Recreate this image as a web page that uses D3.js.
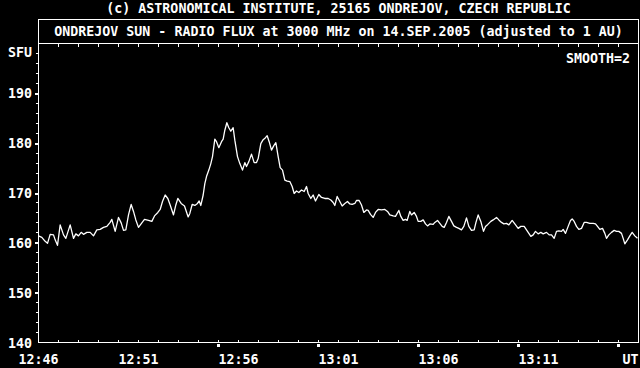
<!DOCTYPE html>
<html>
<head>
<meta charset="utf-8">
<script src="https://cdn.jsdelivr.net/npm/d3@7"></script>
<style>
  html, body { margin: 0; padding: 0; background: #000; }
  svg { display: block; }
  text { font-family: "DejaVu Sans Mono", "Liberation Mono", monospace; font-weight: bold; font-size: 13.3px; fill: #fff; }
</style>
</head>
<body>
<div id="chart"></div>
<script>
//// chart texts
const titleLine = "(c) ASTRONOMICAL INSTITUTE, 25165 ONDREJOV, CZECH REPUBLIC"
const subtitleLine = "ONDREJOV SUN - RADIO FLUX at 3000 MHz on 14.SEP.2005 (adjusted to 1 AU)"
const smoothLabel = "SMOOTH=2"
const yUnit = "SFU"
const xUnit = "UT"

//// axis values
const yTicks = [140, 150, 160, 170, 180, 190]
const xTickLabels = ["12:46", "12:51", "12:56", "13:01", "13:06", "13:11"]
const startTime = "12:46"
const endTime = "13:16"

//// flux series: seconds after 12:46 UT and flux in SFU
const seconds = [
  0, 10, 20, 27, 35, 45, 50, 57, 65, 75, 82, 95, 105, 112, 120, 128, 135, 145, 155, 165,
  175, 185, 195, 205, 215, 220, 230, 240, 248, 255, 262, 270, 278, 285, 292, 300, 310, 318, 330, 340,
  348, 358, 365, 372, 380, 388, 395, 405, 412, 418, 428, 438, 449,
  454, 461, 469, 477, 482, 487, 494, 499, 504, 511, 517, 522, 529, 534, 541, 549, 554, 559, 565, 571,
  577, 584, 589, 597, 604, 612, 619, 624, 631, 639, 647, 654, 659, 667, 674, 681, 686, 692, 699, 706,
  712, 719, 725, 732, 739, 746, 754, 761, 767, 774, 781, 789, 797, 804, 809, 817, 824, 831, 841, 849,
  859, 869, 877, 884, 889, 896,
  904, 911, 919, 927, 934, 941, 949, 954, 962, 969, 976, 984, 989, 996, 1004, 1011, 1019, 1029, 1039, 1047,
  1054, 1064, 1071, 1081, 1087, 1094, 1101, 1106, 1114, 1119, 1127, 1134, 1139, 1147, 1154, 1161, 1167, 1174, 1184, 1189,
  1197, 1204, 1211, 1217, 1224, 1231, 1239, 1246, 1254, 1261, 1269, 1276, 1284, 1291, 1299, 1307, 1312, 1319, 1327, 1335,
  1341, 1348,
  1357, 1364, 1374, 1381, 1389, 1396, 1404, 1411, 1421, 1429, 1439, 1447, 1457, 1467, 1477, 1484, 1491, 1499, 1507, 1514,
  1524, 1532, 1539, 1547, 1554, 1561, 1569, 1574, 1581, 1589, 1596, 1601, 1607, 1614, 1621, 1629, 1637, 1644, 1654, 1664,
  1671, 1677, 1684, 1692, 1699, 1704, 1711, 1719, 1727, 1734, 1741, 1749, 1754, 1759, 1767, 1774, 1781, 1789, 1797
]
const sfu = [
  161.4, 161.1, 160.3, 159.9, 161.7, 161.6, 160.6, 159.5, 163.6, 161.6, 160.9, 163.6, 160.9, 161.8, 161.4, 162.1, 161.7, 162.1, 162.1, 161.4,
  162.6, 162.7, 163.1, 163.3, 164.1, 164.7, 162.3, 165.1, 164.0, 162.5, 162.6, 165.6, 167.7, 166.3, 164.6, 163.1, 164.0, 164.7, 164.5, 164.3,
  165.4, 166.1, 166.7, 168.3, 169.6, 168.9, 167.6, 165.6, 167.6, 168.9, 167.9, 167.4, 165.2,
  165.9, 167.7, 167.5, 167.9, 168.4, 167.5, 169.6, 171.9, 173.3, 174.6, 175.9, 177.3, 180.8, 180.3, 179.1, 180.3, 180.8, 182.6, 184.1, 183.1,
  182.4, 183.1, 180.6, 177.3, 175.9, 174.6, 176.1, 175.3, 176.3, 177.8, 176.1, 176.1, 176.9, 179.9, 180.7, 181.1, 181.5, 180.3, 178.6, 179.5,
  180.1, 177.3, 175.1, 174.6, 172.6, 172.4, 172.3, 171.3, 169.9, 170.4, 170.1, 170.6, 170.3, 171.3, 169.9, 168.9, 169.6, 168.4, 169.7, 169.1,
  168.9, 168.9, 168.6, 168.1, 167.5, 169.3,
  168.3, 167.4, 167.9, 168.3, 167.8, 167.7, 167.9, 168.5, 168.5, 167.6, 166.1, 166.6, 166.5, 165.7, 165.1, 166.1, 166.7, 166.6, 166.7, 166.3,
  165.6, 165.4, 165.3, 166.5, 165.3, 164.5, 164.7, 164.5, 166.3, 165.6, 166.1, 165.3, 164.3, 164.3, 164.6, 163.8, 163.4, 163.8, 163.7, 164.1,
  164.5, 163.9, 163.3, 163.1, 164.1, 165.3, 164.3, 163.4, 163.1, 162.9, 162.6, 163.3, 165.0, 163.3, 162.5, 162.6, 164.0, 165.6, 164.3, 162.3,
  163.3, 163.7,
  164.3, 164.6, 165.1, 164.6, 164.1, 163.8, 163.9, 163.6, 164.5, 163.8, 162.9, 163.3, 163.3, 162.3, 161.3, 161.6, 162.3, 161.8, 162.1, 161.8,
  162.1, 161.6, 161.6, 160.9, 162.3, 162.4, 162.3, 162.7, 161.9, 163.3, 164.5, 164.8, 164.3, 163.3, 162.7, 162.9, 164.1, 164.1, 163.9, 163.9,
  163.8, 163.3, 162.7, 162.9, 161.9, 160.9, 161.6, 162.1, 162.5, 162.3, 162.3, 161.9, 160.9, 159.8, 160.6, 161.4, 162.1, 161.4, 160.9
]

//// layout
const width = 640
const height = 368
const margin = { left: 38.5, right: 1.5, top: 43.5, bottom: 25.5 }
const frameTop = 19.5

const parseTime = d3.timeParse("%Y-%m-%d %H:%M")
const t0 = parseTime("2005-09-14 " + startTime)
const t1 = parseTime("2005-09-14 " + endTime)

const data = []
for (let i = 0; i < Math.min(seconds.length, sfu.length); i++) {
    data.push({ time: d3.timeSecond.offset(t0, seconds[i]), flux: sfu[i] })
}

let x = d3.scaleTime().domain([t0, t1]).range([margin.left, width - margin.right])
let y = d3.scaleLinear().domain([140, 200]).range([height - margin.bottom, margin.top])

const svg = d3.select("#chart").append("svg")
    .attr("width", width)
    .attr("height", height)
svg.append("rect").attr("width", width).attr("height", height).attr("fill", "#000")

const x0 = x.range()[0], x1 = x.range()[1]
const yTop = y.range()[1], yBottom = y.range()[0]

// frame: outer box incl. subtitle band, plus top line of plotting area
svg.append("rect")
    .attr("x", x0).attr("y", frameTop)
    .attr("width", x1 - x0).attr("height", yBottom - frameTop)
    .attr("fill", "none").attr("stroke", "#fff").attr("stroke-width", 1)
    .attr("shape-rendering", "crispEdges")
svg.append("line")
    .attr("x1", x0).attr("x2", x1).attr("y1", yTop).attr("y2", yTop)
    .attr("stroke", "#fff").attr("shape-rendering", "crispEdges")

//// x ticks: minor every minute (up from bottom, down from top), major every 5 min as squares
const minuteTicks = d3.timeMinute.range(t0, d3.timeMinute.offset(t1, 1))
const majorTicks = d3.timeMinute.every(5).range(t0, d3.timeMinute.offset(t1, 1))
const ticks = svg.append("g").attr("fill", "#fff").attr("shape-rendering", "crispEdges")
ticks.selectAll(".xminb").data(minuteTicks).join("rect")
    .attr("x", d => Math.floor(x(d))).attr("y", yBottom - 2.5).attr("width", 1).attr("height", 2)
ticks.selectAll(".xmint").data(minuteTicks).join("rect")
    .attr("x", d => Math.floor(x(d))).attr("y", yTop + 0.5).attr("width", 1).attr("height", 3)
ticks.selectAll(".xmaj").data(majorTicks.slice(1)).join("rect")
    .attr("x", d => Math.floor(x(d)) - 1).attr("y", yBottom + 1.5).attr("width", 3).attr("height", 3)

//// y ticks: minor every 2 SFU, major every 10 SFU
const minorY = d3.range(142, 200, 2)
ticks.selectAll(".ymin").data(minorY).join("rect")
    .attr("x", x0 - 2.5).attr("y", d => Math.floor(y(d))).attr("width", 2).attr("height", 1)
ticks.selectAll(".ymaj").data(yTicks.slice(1)).join("rect")
    .attr("x", x0 - 3.5).attr("y", d => Math.floor(y(d)) - 0.5).attr("width", 3).attr("height", 2)

//// labels
svg.append("text").attr("x", (x0 + x1) / 2).attr("y", 13).attr("text-anchor", "middle").text(titleLine)
svg.append("text").attr("x", (x0 + x1) / 2).attr("y", 36).attr("text-anchor", "middle").text(subtitleLine)
svg.append("text").attr("x", x1 - 8.5).attr("y", 63).attr("text-anchor", "end").text(smoothLabel)

svg.selectAll(".ylab").data(yTicks).join("text")
    .attr("x", 32).attr("y", d => y(d) + 5).attr("text-anchor", "end").text(d => d)
svg.append("text").attr("x", 32).attr("y", y(198) + 3.5).attr("text-anchor", "end").text(yUnit)

svg.selectAll(".xlab").data(xTickLabels).join("text")
    .attr("x", d => x(parseTime("2005-09-14 " + d)))
    .attr("y", 364).attr("text-anchor", "middle").text(d => d)
svg.append("text").attr("x", x1).attr("y", 364).attr("text-anchor", "end").text(xUnit)

//// flux curve
let fluxLine = d3.line().x(d => x(d.time)).y(d => y(d.flux))
svg.append("path")
    .datum(data)
    .attr("fill", "none")
    .attr("stroke", "#fff")
    .attr("stroke-width", 1.3)
    .attr("stroke-linejoin", "round")
    .attr("d", fluxLine)
</script>
</body>
</html>
